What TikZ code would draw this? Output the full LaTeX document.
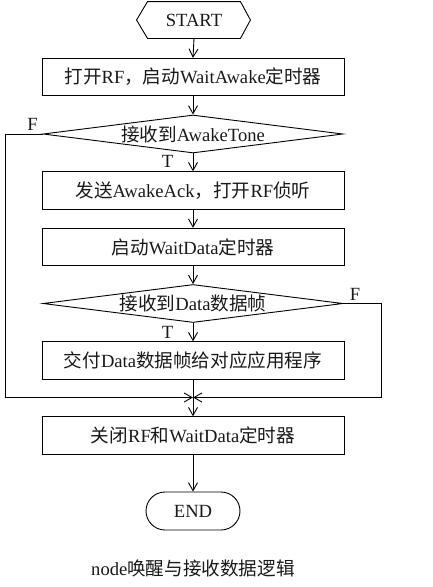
\documentclass[tikz,border=0pt]{standalone}
\usepackage{fontspec}
\setmainfont{Liberation Serif}
\newfontfamily\cjk{Noto Sans CJK SC}
\newcommand\zh[1]{{\cjk #1}}
\usetikzlibrary{arrows.meta,shapes.geometric}
\begin{document}
\begin{tikzpicture}[x=1pt,y=1pt,
  line width=0.9pt,
  every node/.style={font=\fontsize{18.6}{20}\selectfont, text=black!90},
  arr/.style={-{Straight Barb[length=8pt,width=9pt,line width=0.9pt]}},
  procbox/.style={draw, rectangle, minimum width=302pt, minimum height=37.5pt, inner sep=0pt},
  decbox/.style={draw, diamond, aspect=7.9, minimum width=300pt, minimum height=38pt, inner sep=0pt},
  endbox/.style={draw, rectangle, rounded corners=19pt, minimum width=94pt, minimum height=38pt, inner sep=0pt},
  lbl/.style={inner sep=0pt}]
\useasboundingbox (0,0) rectangle (433,-587);

% START hexagon
\node[minimum width=92pt, minimum height=36pt, inner sep=0pt] (start) at (194,-20) {START};
\draw (start.north west) -- (start.north east) -- ([xshift=10pt]start.east)
  -- (start.south east) -- (start.south west) -- ([xshift=-11pt]start.west) -- cycle;

\node[procbox] (b1) at (193,-77) {\zh{打开}RF\zh{，启动}WaitAwake\zh{定时器}};
\node[decbox]  (d1) at (193,-134) {\zh{接收到}AwakeTone};
\node[procbox] (b2) at (193,-190.5) {\zh{发送}AwakeAck\zh{，打开}RF\zh{侦听}};
\node[procbox] (b3) at (193,-247) {\zh{启动}WaitData\zh{定时器}};
\node[decbox]  (d2) at (193,-303.5) {\zh{接收到}Data\zh{数据帧}};
\node[procbox] (b4) at (193,-360.5) {\zh{交付}Data\zh{数据帧给对应应用程序}};
\node[procbox] (b5) at (193,-435.5) {\zh{关闭}RF\zh{和}WaitData\zh{定时器}};
\node[endbox]  (e)  at (193,-511) {END};
\node[lbl] (cap) at (193,-568) {node\zh{唤醒与接收数据逻辑}};

\node[lbl] (f1) at (32.5,-124) {F};
\node[lbl] (t1) at (167.5,-161) {T};
\node[lbl] (f2) at (355,-294) {F};
\node[lbl] (t2) at (167.5,-332) {T};

\coordinate (j) at (193,-397.5);
\coordinate (xl) at (5,-397.5);
\coordinate (xr) at (381,-397.5);

\draw[arr] (start.south) -- (b1.north);
\draw[arr] (b1.south) -- (d1.north);
\draw[arr] (d1.south) -- (b2.north);
\draw[arr] (b2.south) -- (b3.north);
\draw[arr] (b3.south) -- (d2.north);
\draw[arr] (d2.south) -- (b4.north);
\draw[arr] (b4.south) -- (b5.north);
\draw[arr] (b5.south) -- (e.north);
\draw[arr] (d1.west) -| (xl) -- (j);
\draw[arr] (d2.east) -| (xr) -- (j);
\end{tikzpicture}
\end{document}
